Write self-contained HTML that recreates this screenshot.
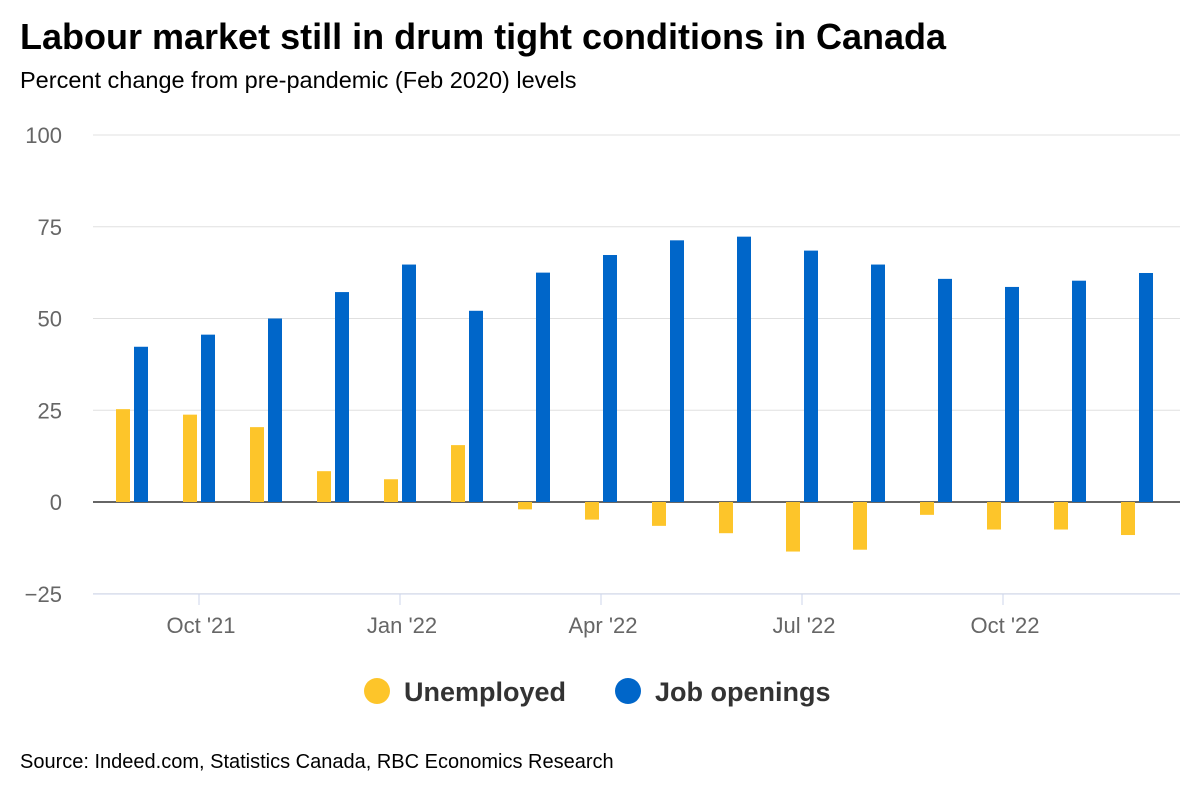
<!DOCTYPE html>
<html><head><meta charset="utf-8"><style>
body{margin:0;background:#fff;font-family:"Liberation Sans",sans-serif}
svg text{font-family:"Liberation Sans",sans-serif}
</style></head><body>
<svg id="chart" width="1200" height="800" xmlns="http://www.w3.org/2000/svg">
<text x="20" y="49" font-size="36" font-weight="bold" fill="#000">Labour market still in drum tight conditions in Canada</text>
<text x="20" y="88" font-size="23.5" fill="#000">Percent change from pre-pandemic (Feb 2020) levels</text>
<g id="grid"></g><g id="bars"></g><g id="xaxis"></g>
<g>
<circle cx="377" cy="691" r="13" fill="#fdc52a"/>
<text x="404" y="701" font-size="27" font-weight="bold" fill="#333">Unemployed</text>
<circle cx="628" cy="691" r="13" fill="#0066c9"/>
<text x="655" y="701" font-size="27" font-weight="bold" fill="#333">Job openings</text>
</g>
<text x="20" y="768" font-size="20" fill="#000">Source: Indeed.com, Statistics Canada, RBC Economics Research</text>
</svg>
<script>
const months=["Sep '21","Oct '21","Nov '21","Dec '21","Jan '22","Feb '22","Mar '22","Apr '22","May '22","Jun '22","Jul '22","Aug '22","Sep '22","Oct '22","Nov '22","Dec '22"];
const unemployed=[25.3,23.8,20.4,8.4,6.2,15.5,-2,-4.8,-6.5,-8.5,-13.5,-13,-3.5,-7.5,-7.5,-9];
const jobOpenings=[42.3,45.6,50,57.2,64.7,52.1,62.5,67.3,71.3,72.3,68.5,64.7,60.8,58.6,60.3,62.4];
const yTicks=[-25,0,25,50,75,100];
const xTickLabels=["Oct '21","Jan '22","Apr '22","Jul '22","Oct '22"];
const xTickIdx=[1,4,7,10,13];
const NS="http://www.w3.org/2000/svg";
const y=v=>502-v*3.67;
const x=i=>132+i*67;
function mk(t,a,p){const e=document.createElementNS(NS,t);for(const k in a)e.setAttribute(k,a[k]);p.appendChild(e);return e;}
const grid=document.getElementById('grid');
yTicks.forEach(v=>{
 const l=mk('line',{x1:93,x2:1180,y1:y(v),y2:y(v),stroke:v===0?'#333':'#e0e0e0','stroke-width':v===0?1.5:1},grid);
 
 
 const t=mk('text',{x:62,y:y(v)+8,'text-anchor':'end','font-size':22,fill:'#666'},grid);
 t.textContent=v<0?'\u2212'+(-v):v;
 
 
});
const bars=document.getElementById('bars');
months.forEach((m,i)=>{
 const u=unemployed[i],j=jobOpenings[i];
 const r1=mk('rect',{x:x(i)-16,width:14,y:Math.min(y(u),y(0)),height:Math.abs(y(u)-y(0)),fill:'#fdc52a'},bars);
 
 
 const r2=mk('rect',{x:x(i)+2,width:14,y:Math.min(y(j),y(0)),height:Math.abs(y(j)-y(0)),fill:'#0066c9'},bars);
 
 
});
const xa=document.getElementById('xaxis');
const ax=mk('line',{x1:93,x2:1180,y1:594,y2:594,stroke:'#ccd6eb'},xa);


xTickIdx.forEach((k,n)=>{
 const tk=mk('line',{x1:x(k),x2:x(k),y1:594,y2:605,stroke:'#ccd6eb'},xa);
 
 
 const t=mk('text',{x:x(k)+2,y:633,'text-anchor':'middle','font-size':22,fill:'#666'},xa);
 t.textContent=xTickLabels[n];
 
 
});
</script>
</body></html>
